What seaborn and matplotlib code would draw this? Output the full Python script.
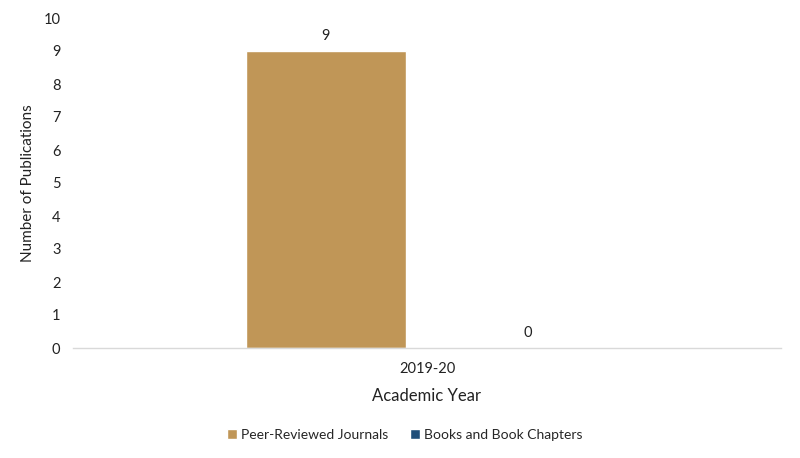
import matplotlib
matplotlib.use("Agg")
import matplotlib.pyplot as plt
import seaborn as sns
import pandas as pd
from matplotlib.patches import Patch

years = ["2019-20"]
series = ["Peer-Reviewed Journals", "Books and Book Chapters"]
peer_reviewed = [9]
books = [0]
colors = ["#C09657", "#1F4E79"]

rows = []
for i, y in enumerate(years):
    rows.append({"Academic Year": y, "Type": series[0], "Count": peer_reviewed[i]})
    rows.append({"Academic Year": y, "Type": series[1], "Count": books[i]})
df = pd.DataFrame(rows)

sns.set_style("white")
plt.rcParams['font.family'] = ['Lato', 'DejaVu Sans']

fig = plt.figure(figsize=(8, 4.58), dpi=100)
ax = fig.add_axes([73/800, 1-348/458, (781-73)/800, (348-18)/458])

sns.barplot(data=df, x="Academic Year", y="Count", hue="Type", palette=colors,
            width=0.571, gap=0.21, ax=ax, legend=False, saturation=1)

for c in ax.containers:
    ax.bar_label(c, labels=[f"{int(v)}" for v in c.datavalues], padding=6, fontsize=10.5, color="#222222")

ax.set_ylim(0, 10)
ax.set_xlim(-0.5, 0.5)
ax.set_yticks(range(0, 11))
ax.tick_params(axis='both', length=0, labelsize=10.5, colors="#222222")
ax.tick_params(axis='y', pad=9)
ax.tick_params(axis='x', pad=10)
for s in ["top", "right", "left"]:
    ax.spines[s].set_visible(False)
ax.spines["bottom"].set_color("#D9D9D9")
ax.spines["bottom"].set_linewidth(1.0)
ax.set_xlabel("Academic Year", fontsize=12, color="#222222", labelpad=9)
ax.set_ylabel("Number of Publications", fontsize=11, color="#222222", labelpad=6)

handles = [Patch(facecolor=colors[0], label=series[0]), Patch(facecolor=colors[1], label=series[1])]
fig.legend(handles=handles, loc="center", bbox_to_anchor=(405/800, 1-435/458), ncol=2,
           frameon=False, fontsize=10, handlelength=0.7, handleheight=0.7, handletextpad=0.3,
           columnspacing=1.6)

fig.savefig("out.png", dpi=100)
